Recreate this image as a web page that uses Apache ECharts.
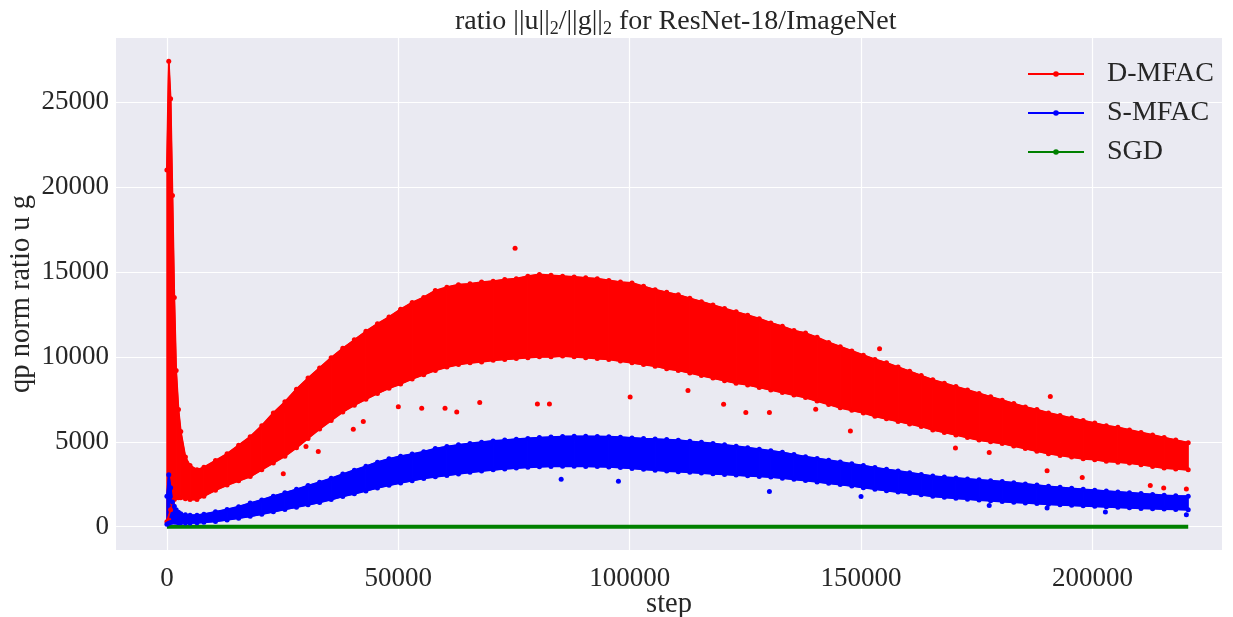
<!DOCTYPE html>
<html lang="en">
<head>
    <meta charset="UTF-8">
    <title>ratio u/g ResNet-18</title>
    <style>
        html,body{margin:0;padding:0;background:#fff;}
        #chart{width:1233px;height:617px;}
    </style>
</head>
<body>
    <div id="chart"></div>
    <script src="https://cdn.jsdelivr.net/npm/echarts@6/dist/echarts.min.js"></script>
    <script>
        // envelope of each noisy curve (step -> value)
        let steps=[0,400,800,1200,1600,2000,2500,3000,4000,5000,6500,8000,10500,13000,15500,18000,20500,23000,25500,28000,
            30500,33000,35500,38000,40500,43000,45500,48000,50500,53000,55500,58000,60500,63000,65500,68000,70500,73000,75500,78000,
            80500,83000,85500,88000,90500,93000,95500,98000,100500,103000,105500,108000,110500,113000,115500,118000,120500,123000,125500,128000,
            130500,133000,135500,138000,140500,143000,145500,148000,150500,153000,155500,158000,160500,163000,165500,168000,170500,173000,175500,178000,
            180500,183000,185500,188000,190500,193000,195500,198000,200500,203000,205500,208000,210500,213000,215500,218000,220700];

        let dmfacHigh=[21000,27400,25200,19500,13500,9200,6900,5600,4100,3600,3350,3500,3900,4300,4800,5300,5950,6700,7350,8100,
            8750,9350,9950,10500,11000,11500,11950,12350,12800,13200,13500,13900,14100,14250,14300,14400,14450,14550,14600,14750,
            14850,14800,14750,14700,14650,14600,14500,14400,14350,14150,13950,13800,13650,13450,13250,13050,12850,12650,12450,12250,
            12000,11800,11550,11400,11150,10850,10600,10350,10100,9850,9650,9400,9150,8900,8650,8450,8250,8050,7850,7650,
            7450,7250,7050,6900,6700,6550,6400,6250,6100,5950,5850,5700,5550,5400,5250,5100,4950];
        let dmfacLow=[300,400,1000,1400,1600,1700,1700,1700,1650,1600,1600,1800,2150,2450,2700,2950,3350,3750,4150,4650,
            5200,5750,6250,6750,7150,7500,7850,8150,8400,8700,8950,9200,9400,9550,9650,9700,9800,9850,9900,9950,
            10000,10000,10050,10000,9950,9900,9850,9750,9650,9550,9450,9300,9200,9050,8900,8750,8600,8450,8350,8200,
            8050,7900,7750,7600,7400,7200,7000,6850,6700,6500,6350,6200,6050,5900,5700,5550,5400,5250,5100,5000,
            4900,4750,4600,4450,4300,4200,4100,4000,3950,3850,3800,3750,3650,3550,3450,3400,3350];

        let smfacHigh=[1800,3060,2300,1450,1200,1000,850,760,700,680,680,740,880,1020,1180,1390,1580,1800,2000,2200,
            2420,2620,2850,3100,3330,3560,3800,4000,4150,4280,4420,4600,4720,4820,4900,4980,5050,5100,5150,5200,
            5250,5280,5310,5320,5320,5310,5300,5270,5230,5190,5160,5130,5090,5030,4970,4900,4820,4740,4650,4560,
            4470,4380,4250,4120,4020,3920,3810,3700,3600,3480,3380,3280,3180,3080,2980,2920,2870,2810,2760,2710,
            2660,2590,2520,2450,2380,2320,2260,2200,2150,2100,2050,2000,1950,1900,1850,1820,1800];
        let smfacLow=[150,200,250,280,280,260,240,230,220,220,230,260,310,400,500,610,740,880,1020,1150,
            1290,1430,1600,1780,1940,2110,2280,2440,2580,2710,2840,2940,3020,3110,3200,3280,3350,3400,3450,3500,
            3530,3550,3560,3560,3550,3540,3520,3480,3430,3380,3330,3280,3240,3200,3160,3120,3080,3040,3000,2960,
            2920,2860,2790,2720,2640,2560,2480,2400,2300,2210,2120,2040,1960,1880,1790,1730,1670,1620,1570,1530,
            1480,1440,1400,1360,1320,1290,1260,1230,1200,1170,1140,1110,1080,1060,1040,1020,1000];

        // stray points outside the dense band
        let dmfacOutlierSteps=[75240,25150,30050,32710,40280,42440,50010,55060,60100,62630,67600,80060,82660,100100,112600,120300,125100,130200,140200,147700,154000,170400,177700,190200,190900,197800,212500,215400,220300];
        let dmfacOutlierValues=[16390,3120,4720,4430,5740,6190,7070,6980,6980,6750,7310,7230,7230,7630,8020,7210,6720,6720,6920,5640,10470,4630,4370,3290,7660,2900,2430,2280,2220];
        let smfacOutlierSteps=[85200,97570,130200,150000,177700,190200,202800,220300];
        let smfacOutlierValues=[2800,2670,2080,1780,1250,1100,860,700];

        let sgdSteps=[0,220700];
        let sgdValues=[1,1];

        let xTicks=[0,50000,100000,150000,200000];
        let yTicks=[0,5000,10000,15000,20000,25000];

        function pairs(xs,ys){
            return xs.map((x,i)=>[x,ys[i]]);
        }
        // one quad per pair of neighbouring steps: [x0,lo0,hi0,x1,lo1,hi1]
        function bandSegments(xs,lo,hi){
            let out=[];
            for(let i=0;i<xs.length-1;i++){
                out.push([xs[i],lo[i],hi[i],xs[i+1],lo[i+1],hi[i+1]]);
            }
            return out;
        }
        function bandRenderer(color){
            return function(params,api){
                let a=api.coord([api.value(0),api.value(1)]);
                let b=api.coord([api.value(3),api.value(4)]);
                let c=api.coord([api.value(3),api.value(5)]);
                let d=api.coord([api.value(0),api.value(2)]);
                return {
                    type:'polygon',
                    shape:{points:[a,b,c,d]},
                    style:{fill:color,stroke:color,lineWidth:1.2}
                };
            };
        }

        let font='Liberation Serif';
        let textColor='#262626';
        let red='#ff0000',blue='#0000ff',green='#008000';

        function edgeLine(name,data,color,dots){
            return {
                name,
                type:'line',
                data,
                symbol:'circle',
                symbolSize:5,
                showSymbol:dots,
                itemStyle:{color},
                lineStyle:{color,width:1.8},
                silent:true
            };
        }

        let chart=echarts.init(document.getElementById('chart'));
        let option={
            backgroundColor:'#ffffff',
            animation:false,
            title:{
                text:'ratio ||u||{s|2}/||g||{s|2} for ResNet-18/ImageNet',
                left:450,
                top:0,
                textStyle:{
                    fontFamily:font,
                    fontSize:28,
                    fontWeight:'normal',
                    color:textColor,
                    rich:{
                        s:{fontFamily:font,fontSize:18,color:textColor,padding:[15,0,0,0]}
                    }
                }
            },
            legend:{
                data:['D-MFAC','S-MFAC','SGD'],
                orient:'vertical',
                left:1022,
                top:55,
                itemWidth:56,
                itemHeight:7,
                itemGap:11,
                textStyle:{fontFamily:font,fontSize:28,color:textColor,padding:[0,0,0,18]}
            },
            grid:{
                left:116,
                right:11,
                top:38,
                bottom:67,
                outerBoundsMode:'none',
                show:true,
                backgroundColor:'#eaeaf2',
                borderWidth:0
            },
            xAxis:{
                type:'value',
                min:-11000,
                max:228000,
                name:'step',
                nameLocation:'middle',
                nameGap:40,
                nameMoveOverlap:false,
                nameTextStyle:{fontFamily:font,fontSize:28.5,color:textColor},
                axisLine:{show:false},
                axisTick:{show:false,customValues:xTicks},
                axisLabel:{customValues:xTicks,formatter:v=>String(v),fontFamily:font,fontSize:27,color:textColor,margin:15},
                splitLine:{show:true,lineStyle:{color:'#ffffff',width:1.2}}
            },
            yAxis:{
                type:'value',
                min:-1370,
                max:28770,
                name:'qp norm ratio u g',
                nameLocation:'middle',
                nameGap:80,
                nameMoveOverlap:false,
                nameTextStyle:{fontFamily:font,fontSize:28.5,color:textColor},
                axisLine:{show:false},
                axisTick:{show:false,customValues:yTicks},
                axisLabel:{customValues:yTicks,formatter:v=>String(v),fontFamily:font,fontSize:27,color:textColor,margin:7},
                splitLine:{show:true,lineStyle:{color:'#ffffff',width:1.2}}
            },
            series:[
                {
                    name:'D-MFAC band',
                    type:'custom',
                    renderItem:bandRenderer(red),
                    encode:{x:[0,3],y:[1,2,4,5]},
                    data:bandSegments(steps,dmfacLow,dmfacHigh),
                    silent:true
                },
                edgeLine('D-MFAC',pairs(steps,dmfacHigh),red,true),
                edgeLine('D-MFAC lower',pairs(steps,dmfacLow),red,true),
                {
                    name:'D-MFAC stray',
                    type:'scatter',
                    data:pairs(dmfacOutlierSteps,dmfacOutlierValues),
                    symbolSize:5,
                    itemStyle:{color:red,opacity:1},
                    silent:true
                },
                {
                    name:'S-MFAC band',
                    type:'custom',
                    renderItem:bandRenderer(blue),
                    encode:{x:[0,3],y:[1,2,4,5]},
                    data:bandSegments(steps,smfacLow,smfacHigh),
                    silent:true
                },
                edgeLine('S-MFAC',pairs(steps,smfacHigh),blue,true),
                edgeLine('S-MFAC lower',pairs(steps,smfacLow),blue,true),
                {
                    name:'S-MFAC stray',
                    type:'scatter',
                    data:pairs(smfacOutlierSteps,smfacOutlierValues),
                    symbolSize:5,
                    itemStyle:{color:blue,opacity:1},
                    silent:true
                },
                {
                    name:'SGD',
                    type:'line',
                    data:pairs(sgdSteps,sgdValues),
                    symbol:'circle',
                    symbolSize:5,
                    showSymbol:false,
                    itemStyle:{color:green},
                    lineStyle:{color:green,width:4},
                    silent:true
                }
            ]
        };
        chart.setOption(option);
    </script>
</body>
</html>
